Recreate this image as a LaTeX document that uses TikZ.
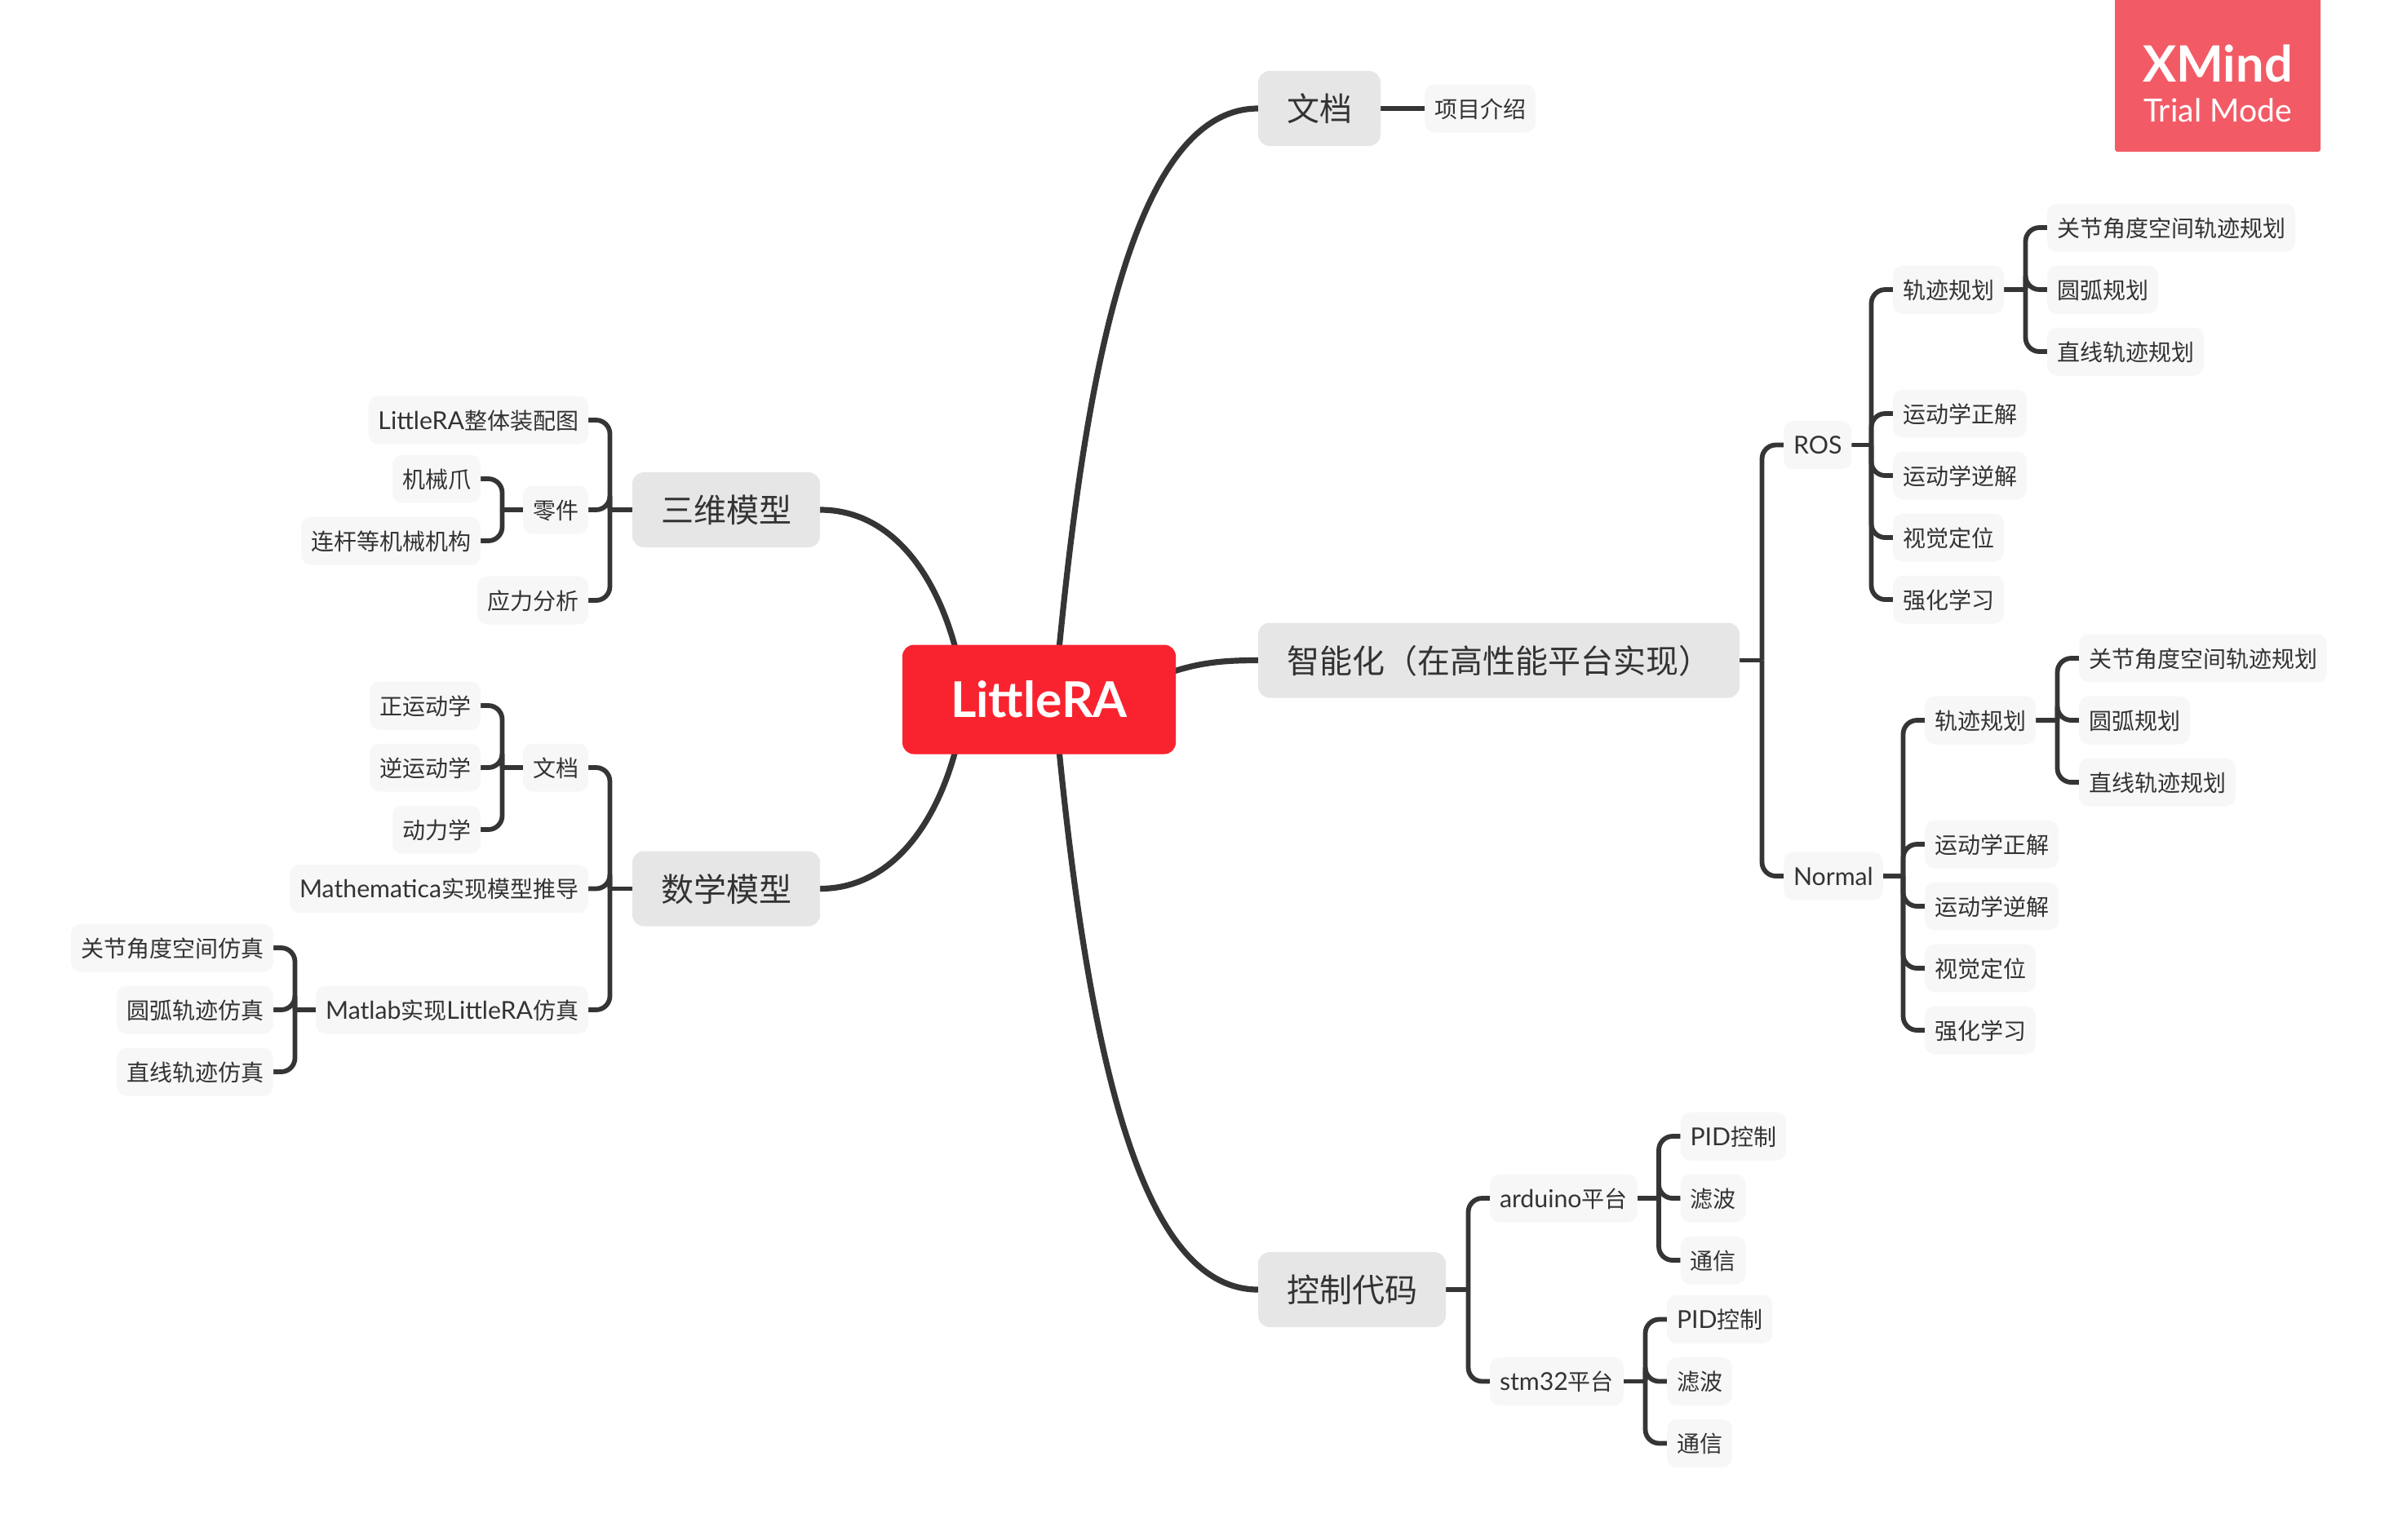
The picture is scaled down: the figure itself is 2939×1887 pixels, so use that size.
\documentclass[tikz,border=0pt]{standalone}
\usepackage{fontspec}
\setmainfont{Lato}[Scale=1.08]
\newfontfamily\cjk{Noto Sans CJK SC}
\usetikzlibrary{calc,backgrounds}
\definecolor{ink}{HTML}{333333}
\definecolor{line}{HTML}{353535}
\definecolor{mainfill}{HTML}{E6E6E6}
\definecolor{subfill}{HTML}{F7F7F7}
\definecolor{rootfill}{HTML}{F9232F}
\definecolor{badge}{HTML}{F25B66}
\tikzset{
  subnode/.style={fill=subfill,text=ink,rounded corners=6pt,inner xsep=6pt,inner ysep=0pt,outer sep=0pt,minimum height=29.5pt,font=\fontsize{14}{14}\selectfont,text height=12.7pt,text depth=1.3pt},
  mainnode/.style={fill=mainfill,text=ink,rounded corners=7pt,inner xsep=17.5pt,inner ysep=0pt,outer sep=0pt,minimum height=46pt,font=\fontsize{20}{20}\selectfont,text height=17.8pt,text depth=2.2pt},
  rootnode/.style={fill=rootfill,text=white,rounded corners=7pt,inner sep=0pt,outer sep=0pt,minimum width=167.5pt,minimum height=67pt,font=\fontsize{28}{28}\selectfont\bfseries},
  conn/.style={draw=line,line width=2.9pt},
  bigconn/.style={draw=line,line width=3.6pt},
}
\newcommand\brR[2]{\foreach \c in {#2}{%
  \coordinate (t) at ($(\c.west)+(-26.5,0)$);
  \draw[conn] (#1.east) -- (t |- #1.east);
  \draw[conn,rounded corners=8.5pt] (t |- #1.east) |- (\c.west);}}
\newcommand\brL[2]{\foreach \c in {#2}{%
  \coordinate (t) at ($(\c.east)+(26.5,0)$);
  \draw[conn] (#1.west) -- (t |- #1.west);
  \draw[conn,rounded corners=8.5pt] (t |- #1.west) |- (\c.east);}}
\begin{document}
\begin{tikzpicture}[x=0.5pt,y=-0.5pt]
\useasboundingbox (0,0) rectangle (2939,1887);
% badge
\fill[badge,rounded corners=1.5pt] (2592,-20) rectangle (2844,186);
\node[text=white,font=\fontsize{28.4}{28.4}\selectfont\bfseries,inner sep=0pt] (xm) at (2718,78) {XMind};
\node[text=white,font=\fontsize{18.15}{18.15}\selectfont,inner sep=0pt] (tm) at (2718,135) {Trial Mode};
% root
\node[rootnode] (root) at (1273.5,857.5) {LittleRA};
% main topics
\node[mainnode,anchor=west] (doc) at (1542,133) {\cjk 文档};
\node[mainnode,anchor=west] (smart) at (1542,809.5) {\cjk 智能化（在高性能平台实现）};
\node[mainnode,anchor=west] (ctrl) at (1542,1581) {\cjk 控制代码};
\node[mainnode,anchor=east] (three) at (1005,625) {\cjk 三维模型};
\node[mainnode,anchor=east] (math) at (1005,1089.5) {\cjk 数学模型};
% doc
\node[subnode,anchor=west] (intro) at (1746,133) {\cjk 项目介绍};
% ROS
\node[subnode,anchor=west] (ros) at (2186,545.5) {ROS};
\node[subnode,anchor=west] (rtraj) at (2320,355) {\cjk 轨迹规划};
\node[subnode,anchor=west] (rfk) at (2320,507) {\cjk 运动学正解};
\node[subnode,anchor=west] (rik) at (2320,583) {\cjk 运动学逆解};
\node[subnode,anchor=west] (rvis) at (2320,659) {\cjk 视觉定位};
\node[subnode,anchor=west] (rrl) at (2320,735) {\cjk 强化学习};
\node[subnode,anchor=west] (rj) at (2509,279) {\cjk 关节角度空间轨迹规划};
\node[subnode,anchor=west] (ra) at (2509,355) {\cjk 圆弧规划};
\node[subnode,anchor=west] (rl) at (2509,431) {\cjk 直线轨迹规划};
% Normal
\node[subnode,anchor=west] (norm) at (2186,1074) {Normal};
\node[subnode,anchor=west] (ntraj) at (2359,883) {\cjk 轨迹规划};
\node[subnode,anchor=west] (nfk) at (2359,1035) {\cjk 运动学正解};
\node[subnode,anchor=west] (nik) at (2359,1111) {\cjk 运动学逆解};
\node[subnode,anchor=west] (nvis) at (2359,1187) {\cjk 视觉定位};
\node[subnode,anchor=west] (nrl) at (2359,1263) {\cjk 强化学习};
\node[subnode,anchor=west] (nj) at (2548,807) {\cjk 关节角度空间轨迹规划};
\node[subnode,anchor=west] (na) at (2548,883) {\cjk 圆弧规划};
\node[subnode,anchor=west] (nl) at (2548,959) {\cjk 直线轨迹规划};
% control
\node[subnode,anchor=west] (ard) at (1826,1469) {arduino{\cjk 平台}};
\node[subnode,anchor=west] (stm) at (1826,1693.5) {stm32{\cjk 平台}};
\node[subnode,anchor=west] (apid) at (2059.5,1393) {PID{\cjk 控制}};
\node[subnode,anchor=west] (afil) at (2059.5,1469) {\cjk 滤波};
\node[subnode,anchor=west] (acom) at (2059.5,1545) {\cjk 通信};
\node[subnode,anchor=west] (spid) at (2043,1617.5) {PID{\cjk 控制}};
\node[subnode,anchor=west] (sfil) at (2043,1693.5) {\cjk 滤波};
\node[subnode,anchor=west] (scom) at (2043,1769.5) {\cjk 通信};
% three
\node[subnode,anchor=east] (asm) at (721,515) {LittleRA{\cjk 整体装配图}};
\node[subnode,anchor=east] (part) at (721,625) {\cjk 零件};
\node[subnode,anchor=east] (stress) at (721,736) {\cjk 应力分析};
\node[subnode,anchor=east] (claw) at (589,587) {\cjk 机械爪};
\node[subnode,anchor=east] (link) at (589,663) {\cjk 连杆等机械机构};
% math
\node[subnode,anchor=east] (mdoc) at (721,941) {\cjk 文档};
\node[subnode,anchor=east] (mma) at (721,1089.5) {Mathematica{\cjk 实现模型推导}};
\node[subnode,anchor=east] (mlab) at (721,1238) {Matlab{\cjk 实现}LittleRA{\cjk 仿真}};
\node[subnode,anchor=east] (fwd) at (589,865) {\cjk 正运动学};
\node[subnode,anchor=east] (inv) at (589,941) {\cjk 逆运动学};
\node[subnode,anchor=east] (dyn) at (589,1017) {\cjk 动力学};
\node[subnode,anchor=east] (sj) at (335,1162) {\cjk 关节角度空间仿真};
\node[subnode,anchor=east] (sa) at (335,1238) {\cjk 圆弧轨迹仿真};
\node[subnode,anchor=east] (sl) at (335,1314) {\cjk 直线轨迹仿真};
\begin{pgfonlayer}{background}
% main curves
\draw[bigconn] ($(root.north)+(24,10)$) .. controls (1328,490) and (1382,133) .. (doc.west);
\draw[bigconn] ($(root.south)+(24,-10)$) .. controls (1338,1324) and (1405,1581) .. (ctrl.west);
\draw[bigconn] ($(root.east)+(-10,-32)$) .. controls (1470,812) and (1500,809.5) .. (smart.west);
\draw[bigconn] ($(root.north)+(-101,10)$) .. controls (1147,700) and (1090,625) .. (three.east);
\draw[bigconn] ($(root.south)+(-101,-10)$) .. controls (1147,1014) and (1090,1089.5) .. (math.east);
% brackets
\draw[conn] (doc.east) -- (intro.west);
\brR{smart}{ros,norm}
\brR{ros}{rtraj,rfk,rik,rvis,rrl}
\brR{rtraj}{rj,ra,rl}
\brR{norm}{ntraj,nfk,nik,nvis,nrl}
\brR{ntraj}{nj,na,nl}
\brR{ctrl}{ard,stm}
\brR{ard}{apid,afil,acom}
\brR{stm}{spid,sfil,scom}
\brL{three}{asm,part,stress}
\brL{part}{claw,link}
\brL{math}{mdoc,mma,mlab}
\brL{mdoc}{fwd,inv,dyn}
\brL{mlab}{sj,sa,sl}
\end{pgfonlayer}
\end{tikzpicture}
\end{document}
